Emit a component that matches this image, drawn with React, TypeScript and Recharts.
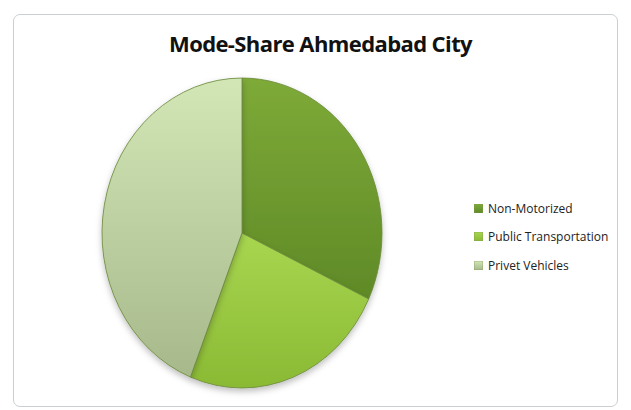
import React from 'react';
import { PieChart, Pie, Cell, Legend } from 'recharts';

const categories = ['Non-Motorized', 'Public Transportation', 'Privet Vehicles'];
const shares = [32, 24, 44];
const title = 'Mode-Share Ahmedabad City';

const data = categories.map((name, i) => ({ name, value: shares[i] }));

const grads = [
  { id: 'g0', top: '#7eaa38', bottom: '#5f8a27' },
  { id: 'g1', top: '#a8d650', bottom: '#8ab934' },
  { id: 'g2', top: '#d2e6b6', bottom: '#a7b98b' },
];

const renderLegend = (props: any) => {
  const payload = [...(props.payload || [])].sort(
    (a: any, b: any) => categories.indexOf(a.value) - categories.indexOf(b.value)
  );
  return (
    <div style={{ fontFamily: '"Open Sans", sans-serif', fontSize: 12, color: '#222' }}>
      {payload.map((p: any) => {
        const i = categories.indexOf(p.value);
        return (
          <div key={p.value} style={{ display: 'flex', alignItems: 'center', height: 28.5 }}>
            <svg width={9} height={9} style={{ marginRight: 5 }}>
              <rect x={0} y={0} width={9} height={9} fill={`url(#${grads[i].id})`} stroke="#7f9a5a" strokeWidth={0.6} />
            </svg>
            <span>{p.value}</span>
          </div>
        );
      })}
    </div>
  );
};

export default function App() {
  return (
    <div style={{ position: 'absolute', left: 0, top: 0, width: 631, height: 410, background: '#fff' }}>
      <style>{`.recharts-pie{transform:scaleY(1.107);transform-origin:242px 233px;}`}</style>
      <div
        style={{
          position: 'absolute', left: 13, top: 14, width: 605, height: 393,
          border: '1px solid #c9cfd2', borderRadius: 7, boxSizing: 'border-box',
        }}
      />
      <div
        style={{
          position: 'absolute', left: 0, width: 631, top: 28, textAlign: 'center',
          fontFamily: '"Open Sans", sans-serif', fontWeight: 700, fontSize: 22, color: '#111',
          letterSpacing: -0.6, paddingLeft: 10, boxSizing: 'border-box',
        }}
      >
        {title}
      </div>
      <PieChart
        width={631}
        height={410}
        margin={{ top: 0, right: 0, bottom: 0, left: 0 }}
        style={{ position: 'absolute', left: 0, top: 0 }}
      >
        <defs>
          {grads.map((g) => (
            <linearGradient key={g.id} id={g.id} x1="0" y1="0" x2="0" y2="1">
              <stop offset="0%" stopColor={g.top} />
              <stop offset="100%" stopColor={g.bottom} />
            </linearGradient>
          ))}
          <filter id="shadow" x="-20%" y="-20%" width="140%" height="140%">
            <feDropShadow dx="0" dy="3" stdDeviation="3" floodColor="#000" floodOpacity="0.25" />
          </filter>
        </defs>
        <Pie
          data={data}
          dataKey="value"
          nameKey="name"
          cx={242}
          cy={233}
          outerRadius={140}
          startAngle={90}
          endAngle={-270}
          stroke="#6b8a3c"
          strokeWidth={0.8}
          isAnimationActive={false}
          style={{ filter: 'url(#shadow)' }}
        >
          {data.map((d, i) => (
            <Cell key={d.name} fill={`url(#${grads[i].id})`} />
          ))}
        </Pie>
        <Legend
          layout="vertical"
          content={renderLegend}
          wrapperStyle={{ position: 'absolute', left: 474, top: 194, width: 150 }}
        />
      </PieChart>
    </div>
  );
}
